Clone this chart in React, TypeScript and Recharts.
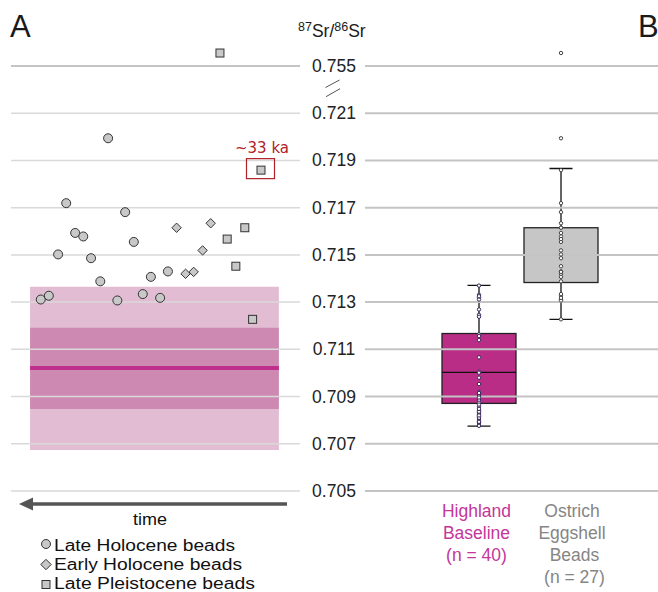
import React from "react";
import {
  ComposedChart,
  Scatter,
  Bar,
  XAxis,
  YAxis,
  ReferenceArea,
  ReferenceLine,
} from "recharts";

// ---------- axis ----------
const TICK_VALUES = [0.705, 0.707, 0.709, 0.711, 0.713, 0.715, 0.717, 0.719, 0.721, 0.755];
const TICK_LABELS = ["0.705", "0.707", "0.709", "0.711", "0.713", "0.715", "0.717", "0.719", "0.721", "0.755"];
const BREAK_FROM = 0.755; // real value shown right above the axis break
const BREAK_TO = 0.723; // where it is drawn on the (broken) axis
const disp = (v: number) => (v > 0.73 ? BREAK_TO + (v - BREAK_FROM) : v);
const Y_DOMAIN = [0.7045, 0.724];

// ---------- panel A: beads (x = relative time order, y = 87Sr/86Sr) ----------
const lateHoloceneOrder = [19.1, 39.5, 22.2, 25.0, 42.5, 16.3, 27.7, 30.9, 48.4, 54.3, 10.3, 13.1, 36.8, 45.6, 51.6, 33.6];
const lateHoloceneSr = [0.71719, 0.71681, 0.71593, 0.71578, 0.71555, 0.71502, 0.71486, 0.71388, 0.71407, 0.7143, 0.71311, 0.71327, 0.71307, 0.71334, 0.71318, 0.71994];
const earlyHoloceneOrder = [57.3, 69.1, 66.3, 60.4, 63.2];
const earlyHoloceneSr = [0.71615, 0.71634, 0.71519, 0.7142, 0.71428];
const latePleistoceneOrder = [72.3, 86.5, 80.9, 74.8, 77.8, 83.6];
const latePleistoceneSr = [0.75555, 0.71859, 0.71615, 0.71567, 0.71452, 0.71227];
const latePleistoceneNote = ["", "~33 ka", "", "", "", ""];

// highland baseline band
const baselineBandOrder = [6.6, 92.7];
const baselineOuter = [0.70674, 0.71365];
const baselineInner = [0.70847, 0.71191];
const baselineMean = 0.71021;

// ---------- panel B: box plots ----------
const CATEGORIES = ["Highland Baseline (n = 40)", "Ostrich Eggshell Beads (n = 27)"];
const CATEGORY_LINES = [["Highland", "Baseline", "(n = 40)"], ["Ostrich", "Eggshell", "Beads", "(n = 27)"]];
const CATEGORY_COLORS = ["#c4369a", "#858585"];
const BOX_FILLS = ["#b92d87", "#c6c6c6"];
const BOX_MIN = [0.70775, 0.71227];
const BOX_Q1 = [0.70871, 0.71383];
const BOX_MEDIAN = [0.71002, 0.71498];
const BOX_Q3 = [0.71167, 0.71615];
const BOX_MAX = [0.71371, 0.71866];
const highlandSr = [
  0.7137, 0.71331, 0.7132, 0.71311, 0.71269, 0.71246, 0.71238, 0.71163, 0.71156, 0.71139,
  0.71066, 0.71005, 0.71001, 0.7098, 0.70953, 0.7092, 0.70911, 0.70902, 0.70892, 0.70885,
  0.70874, 0.70857, 0.7084, 0.70831, 0.70825, 0.70815, 0.70805, 0.70796, 0.70789, 0.70779,
  0.70776, 0.70793, 0.7081, 0.7082, 0.70836, 0.70848, 0.70866, 0.70896, 0.70915, 0.71325,
];
const ostrichSr = [...lateHoloceneSr, ...earlyHoloceneSr, ...latePleistoceneSr];

// ---------- derived tables ----------
const lateHoloceneData = lateHoloceneOrder.map((x, i) => ({ x, y: disp(lateHoloceneSr[i]) }));
const earlyHoloceneData = earlyHoloceneOrder.map((x, i) => ({ x, y: disp(earlyHoloceneSr[i]) }));
const latePleistoceneData = latePleistoceneOrder.map((x, i) => ({ x, y: disp(latePleistoceneSr[i]), note: latePleistoceneNote[i] }));

const boxData = CATEGORIES.map((name, i) => ({
  pos: i + 1,
  name,
  min: BOX_MIN[i],
  q1: BOX_Q1[i],
  median: BOX_MEDIAN[i],
  q3: BOX_Q3[i],
  max: BOX_MAX[i],
  fill: BOX_FILLS[i],
  range: [disp(BOX_MIN[i]), disp(BOX_MAX[i])],
}));
const highlandDots = highlandSr.map((v) => ({ pos: 1, y: disp(v) }));
const ostrichDots = ostrichSr.map((v) => ({ pos: 2, y: disp(v) }));

const FONT = "'Liberation Sans', Arial, Helvetica, sans-serif";
const MARK_FILL = "#c8c8c8";
const MARK_STROKE = "#333";

// ---------- marker shapes ----------
const circleShape = (p: any) => (
  <circle cx={p.cx} cy={p.cy} r={4.5} fill={MARK_FILL} stroke={MARK_STROKE} strokeWidth={1} />
);
const diamondShape = (p: any) => {
  const h = 4.7;
  return (
    <polygon
      points={`${p.cx},${p.cy - h} ${p.cx + h},${p.cy} ${p.cx},${p.cy + h} ${p.cx - h},${p.cy}`}
      fill={MARK_FILL}
      stroke={MARK_STROKE}
      strokeWidth={1}
    />
  );
};
const squareShape = (p: any) => {
  const s = 8;
  const note = p.payload && p.payload.note;
  return (
    <g>
      <rect x={p.cx - s / 2} y={p.cy - s / 2} width={s} height={s} fill={MARK_FILL} stroke={MARK_STROKE} strokeWidth={1} />
      {note ? (
        <g>
          <rect x={p.cx - 14.5} y={p.cy - 11.5} width={28} height={20} fill="none" stroke="#b0222a" strokeWidth={1.2} />
          <text
            x={p.cx + 1}
            y={p.cy - 17}
            textAnchor="middle"
            fontSize={15}
            fill="#b0222a"
            fontFamily="'DejaVu Sans', Verdana, sans-serif"
          >
            {note}
          </text>
        </g>
      ) : null}
    </g>
  );
};

const highlandDot = (p: any) => (
  <circle cx={p.cx} cy={p.cy} r={1.7} fill="#ffffff" stroke="#3b2a5c" strokeWidth={1} />
);
const ostrichDot = (p: any) => (
  <circle cx={p.cx} cy={p.cy} r={1.7} fill="#ffffff" stroke="#444" strokeWidth={1} />
);

// ---------- box plot shape (Bar spans whisker min..max) ----------
const BoxShape = (p: any) => {
  const d = p.payload;
  const top = Math.min(p.y, p.y + p.height);
  const h = Math.abs(p.height);
  const lo = disp(d.min);
  const hi = disp(d.max);
  const py = (v: number) => top + (h * (hi - disp(v))) / (hi - lo);
  const cx = p.x + p.width / 2;
  const cap = 11.5;
  return (
    <g>
      <line x1={cx} x2={cx} y1={py(d.max)} y2={py(d.min)} stroke="#111" strokeWidth={1.3} />
      <line x1={cx - cap} x2={cx + cap} y1={py(d.max)} y2={py(d.max)} stroke="#111" strokeWidth={1.3} />
      <line x1={cx - cap} x2={cx + cap} y1={py(d.min)} y2={py(d.min)} stroke="#111" strokeWidth={1.3} />
      <rect
        x={p.x}
        y={py(d.q3)}
        width={p.width}
        height={py(d.q1) - py(d.q3)}
        fill={d.fill}
        stroke="#222"
        strokeWidth={1.3}
      />
      <line x1={p.x} x2={p.x + p.width} y1={py(d.median)} y2={py(d.median)} stroke="#111" strokeWidth={1.3} />
    </g>
  );
};

const SrTick = (p: any) => {
  const v = p.payload.value;
  let idx = 0;
  TICK_VALUES.forEach((t, i) => {
    if (Math.abs(disp(t) - v) < Math.abs(disp(TICK_VALUES[idx]) - v)) idx = i;
  });
  return (
    <text x={34} y={p.y + 6} textAnchor="middle" fontSize={17.5} fill="#222" fontFamily={FONT}>
      {TICK_LABELS[idx]}
    </text>
  );
};

const LABEL_DX = [[-2.5, -2.5, -2.5], [11, 11, 13.5, 13.5]];
const CategoryTick = (p: any) => {
  const i = Math.round(p.payload.value) - 1;
  const lines = CATEGORY_LINES[i] || [];
  return (
    <g>
      {lines.map((ln, k) => (
        <text
          key={k}
          x={p.x + LABEL_DX[i][k]}
          y={517.3 + k * 22}
          textAnchor="middle"
          fontSize={17.5}
          fill={CATEGORY_COLORS[i]}
          fontFamily={FONT}
        >
          {ln}
        </text>
      ))}
    </g>
  );
};

const LeftPanel = () => (
  <ComposedChart width={300} height={592} margin={{ top: 42.4, right: 0, bottom: 89.2, left: 11 }}>
    <XAxis type="number" dataKey="x" domain={[0, 100]} hide allowDataOverflow />
    <YAxis type="number" domain={Y_DOMAIN} hide allowDataOverflow />
    {TICK_VALUES.map((t, i) => (
      <ReferenceLine
        key={t}
        y={disp(t)}
        stroke={i === TICK_VALUES.length - 1 ? "#c4c4c4" : "#d9d9d9"}
        strokeWidth={i === TICK_VALUES.length - 1 ? 2 : 1.5}
      />
    ))}
    <ReferenceArea
      x1={baselineBandOrder[0]}
      x2={baselineBandOrder[1]}
      y1={baselineOuter[0]}
      y2={baselineOuter[1]}
      fill="#a83478"
      fillOpacity={0.33}
      stroke="none"
    />
    <ReferenceArea
      x1={baselineBandOrder[0]}
      x2={baselineBandOrder[1]}
      y1={baselineInner[0]}
      y2={baselineInner[1]}
      fill="#a83478"
      fillOpacity={0.37}
      stroke="none"
    />
    <ReferenceLine
      segment={[
        { x: baselineBandOrder[0], y: baselineMean },
        { x: baselineBandOrder[1], y: baselineMean },
      ]}
      stroke="#bf2f8c"
      strokeWidth={4}
    />
    <Scatter data={lateHoloceneData} dataKey="y" shape={circleShape} isAnimationActive={false} />
    <Scatter data={earlyHoloceneData} dataKey="y" shape={diamondShape} isAnimationActive={false} />
    <Scatter data={latePleistoceneData} dataKey="y" shape={squareShape} isAnimationActive={false} />
  </ComposedChart>
);

const RightPanel = () => (
  <ComposedChart width={358} height={592} data={boxData} margin={{ top: 42.4, right: 0, bottom: 0, left: 0 }}>
    <XAxis
      type="number"
      dataKey="pos"
      domain={[-0.3902, 3.1829]}
      ticks={[1, 2]}
      interval={0}
      tick={CategoryTick}
      axisLine={false}
      tickLine={false}
      height={89.2}
      allowDataOverflow
    />
    <YAxis
      type="number"
      domain={Y_DOMAIN}
      ticks={TICK_VALUES.map(disp)}
      interval={0}
      tick={SrTick}
      axisLine={false}
      tickLine={false}
      width={65}
      allowDataOverflow
    />
    {TICK_VALUES.map((t) => (
      <ReferenceLine key={t} y={disp(t)} stroke="#c4c4c4" strokeWidth={2} />
    ))}
    <Bar dataKey="range" barSize={74} shape={BoxShape} isAnimationActive={false} />
    <Scatter data={highlandDots} dataKey="y" shape={highlandDot} isAnimationActive={false} />
    <Scatter data={ostrichDots} dataKey="y" shape={ostrichDot} isAnimationActive={false} />
  </ComposedChart>
);

const Overlay = () => (
  <svg
    width={658}
    height={592}
    style={{ position: "absolute", left: 0, top: 0, pointerEvents: "none" }}
    fontFamily={FONT}
  >
    <text x={10} y={37} fontSize={31} fill="#1a1a1a">A</text>
    <text x={638} y={37} fontSize={31} fill="#1a1a1a">B</text>
    <text x={298} y={37} fill="#1a1a1a" fontSize={17.5}>
      <tspan fontSize={12.5} dy={-6}>87</tspan>
      <tspan fontSize={17.5} dy={6}>Sr/</tspan>
      <tspan fontSize={12.5} dy={-6}>86</tspan>
      <tspan fontSize={17.5} dy={6}>Sr</tspan>
    </text>
    {/* axis break marks */}
    <line x1={325.5} y1={87.5} x2={339.5} y2={80} stroke="#555" strokeWidth={1} />
    <line x1={326} y1={96.7} x2={340} y2={88.7} stroke="#555" strokeWidth={1} />
    {/* time arrow */}
    <line x1={287} y1={504} x2={30} y2={504} stroke="#555" strokeWidth={3.5} />
    <polygon points="19,504 33,497.5 33,510.5" fill="#555" />
    <text x={150} y={525} textAnchor="middle" fontSize={17} fill="#111" textLength={34} lengthAdjust="spacingAndGlyphs">
      time
    </text>
    {/* legend */}
    <circle cx={46} cy={544} r={4.5} fill={MARK_FILL} stroke={MARK_STROKE} strokeWidth={1} />
    <polygon points="46,559.3 51.2,564.5 46,569.7 40.8,564.5" fill={MARK_FILL} stroke={MARK_STROKE} strokeWidth={1} />
    <rect x={42} y={580.5} width={8} height={8} fill={MARK_FILL} stroke={MARK_STROKE} strokeWidth={1} />
    <text x={54} y={550.5} fontSize={16} fill="#111" textLength={181} lengthAdjust="spacingAndGlyphs">Late Holocene beads</text>
    <text x={54} y={570} fontSize={16} fill="#111" textLength={188} lengthAdjust="spacingAndGlyphs">Early Holocene beads</text>
    <text x={54} y={588.5} fontSize={16} fill="#111" textLength={201} lengthAdjust="spacingAndGlyphs">Late Pleistocene beads</text>
  </svg>
);

export default function App() {
  return (
    <div style={{ position: "absolute", left: 0, top: 0, width: 658, height: 592, background: "#fff" }}>
      <div style={{ position: "absolute", left: 0, top: 0 }}>
        <LeftPanel />
      </div>
      <div style={{ position: "absolute", left: 300, top: 0 }}>
        <RightPanel />
      </div>
      <Overlay />
    </div>
  );
}
